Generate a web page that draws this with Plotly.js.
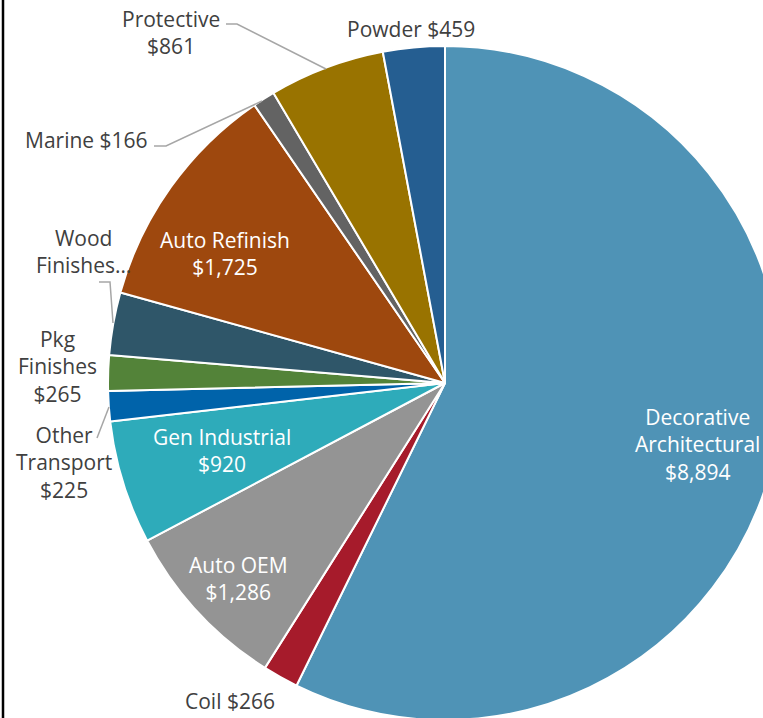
<!DOCTYPE html>
<html>
<head>
<meta charset="utf-8">
<script src="https://cdn.plot.ly/plotly-3.0.1.min.js"></script>
<style>
  html, body { margin: 0; padding: 0; overflow: hidden; background: #fff; width: 763px; height: 718px; }
  #chart { position: absolute; left: 0; top: 0; }
</style>
</head>
<body>
<div id="chart"></div>
<script>
// ---- data (Wood Finishes value is hidden in the source) ----
const categories = ['Decorative Architectural', 'Coil', 'Auto OEM', 'Gen Industrial', 'Other Transport',
                    'Pkg Finishes', 'Wood Finishes', 'Auto Refinish', 'Marine', 'Protective', 'Powder'];
const values = [8894, 266, 1286, 920, 225, 265, 466, 1725, 166, 861, 459];
// label text as shown on the chart
const labelNames = ['Decorative<br>Architectural', 'Coil', 'Auto OEM', 'Gen Industrial', 'Other<br>Transport',
                    'Pkg<br>Finishes', 'Wood<br>Finishes…', 'Auto Refinish', 'Marine', 'Protective', 'Powder'];
const labelSep = ['<br>', ' ', '<br>', '<br>', '<br>', '<br>', null, '<br>', ' ', '<br>', ' '];

// ---- styles ----
const colors = ['#4F93B6', '#A61B2B', '#949494', '#2EABBA', '#0063AA', '#538339',
                '#2F5669', '#9E480E', '#636363', '#997300', '#255E91'];
const insideLabel = [true, false, true, true, false, false, false, true, false, false, false];
// label centre positions in page pixels
const labelPos = [[697, 445], [230, 701], [238, 578], [222, 450], [64, 462],
                  [57, 366], [83, 251], [225, 253], [86, 140], [171, 32], [411, 29]];
// leader lines in page pixels
const leaders = [
  [[226, 24], [237, 24], [326, 69]],   // Protective
  [[154, 146], [166, 146], [262, 101]],// Marine
  [[99, 282], [110, 282], [113, 323]], // Wood
  [[97, 438], [109, 407]]              // Other Transport
];

// geometry: pie centre (445,383), radius 337
const L = 108, T = 46, S = 674;
const W = L + S, H = T + S;
const px = x => (x - L) / S;
const py = y => (T + S - y) / S;

const fmt = v => '$' + v.toLocaleString('en-US');

const annotations = categories.map((c, i) => ({
  xref: 'paper', yref: 'paper',
  x: px(labelPos[i][0]), y: py(labelPos[i][1]),
  xanchor: 'center', yanchor: 'middle',
  showarrow: false,
  align: 'center',
  text: labelSep[i] === null ? labelNames[i] : labelNames[i] + labelSep[i] + fmt(values[i]),
  font: { family: 'Open Sans, sans-serif', size: 21, color: insideLabel[i] ? '#FFFFFF' : '#404040' }
}));

const shapes = leaders.map(pts => ({
  type: 'path', xref: 'paper', yref: 'paper',
  path: pts.map((p, k) => (k ? 'L' : 'M') + px(p[0]) + ',' + py(p[1])).join(' '),
  line: { color: '#A6A6A6', width: 1.5 }
}));
// left frame border
shapes.push({
  type: 'line', xref: 'paper', yref: 'paper',
  x0: px(3), x1: px(3), y0: py(0), y1: py(720),
  line: { color: '#000000', width: 2.5 }
});

const trace = {
  type: 'pie',
  labels: categories,
  values: values,
  sort: false,
  direction: 'clockwise',
  rotation: 0,
  textinfo: 'none',
  hoverinfo: 'label+value',
  marker: { colors: colors, line: { color: '#FFFFFF', width: 2 } },
  domain: { x: [0, 1], y: [0, 1] },
  showlegend: false
};

const layout = {
  width: W, height: H,
  margin: { l: L, r: 0, t: T, b: 0, pad: 0 },
  paper_bgcolor: '#FFFFFF',
  plot_bgcolor: '#FFFFFF',
  showlegend: false,
  annotations: annotations,
  shapes: shapes
};

Plotly.newPlot('chart', [trace], layout, { displayModeBar: false, staticPlot: true });
</script>
</body>
</html>
